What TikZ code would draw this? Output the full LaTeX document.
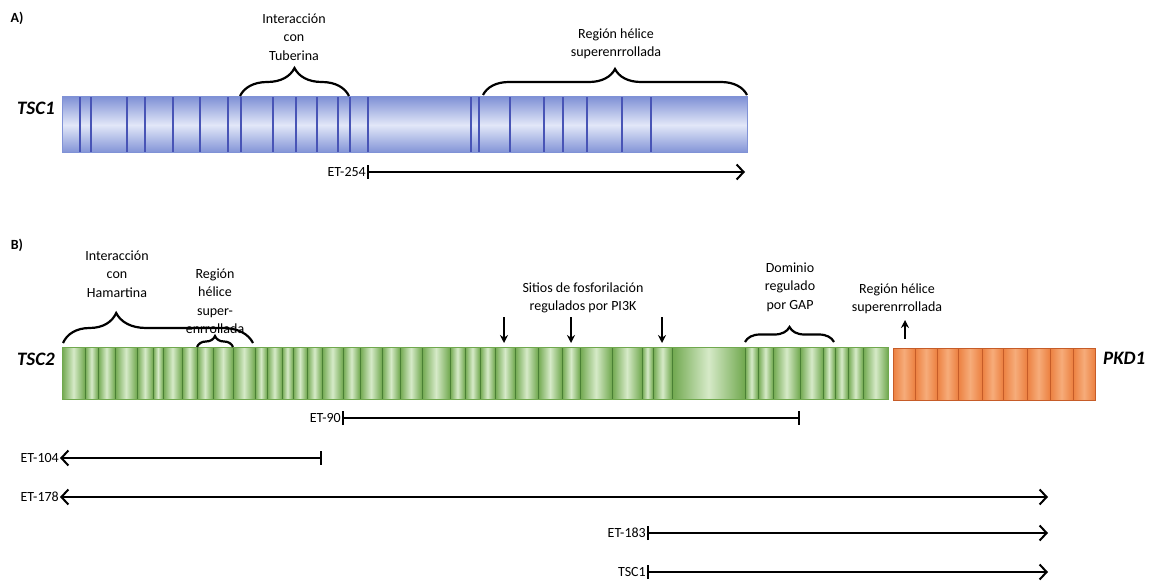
\documentclass[tikz,border=0pt]{standalone}
\usepackage{fontspec}
\setmainfont{Carlito}
\usepackage{tikz}
\usetikzlibrary{arrows.meta,decorations.pathreplacing,calc}
\definecolor{tscBlue}{RGB}{128,146,214}
\definecolor{tscBlueLight}{RGB}{226,231,248}
\definecolor{tscBlueDark}{RGB}{72,84,182}
\definecolor{tscGreen}{RGB}{112,168,78}
\definecolor{tscGreenLight}{RGB}{214,234,200}
\definecolor{tscGreenDark}{RGB}{74,128,52}
\definecolor{pkdOrange}{RGB}{236,128,64}
\definecolor{pkdOrangeLight}{RGB}{246,172,122}
\definecolor{pkdOrangeDark}{RGB}{198,92,40}

\begin{document}
\begin{tikzpicture}[x=1pt, y=-1pt,
    every node/.style={font=\fontsize{14}{18.5}\selectfont, inner sep=1pt},
    lbl/.style={align=center},
    gene/.style={font=\fontsize{19}{22}\selectfont\bfseries\itshape},
    panel/.style={font=\fontsize{14}{16}\selectfont\bfseries},
    curly/.style={decorate, decoration={brace, amplitude=#1}, line width=2.2pt},
    etline/.style={line width=2pt},
    pin/.style={line width=2pt, -{Stealth[length=8pt, width=8pt]}}]
    \useasboundingbox (0,0) rectangle (1149,583);

    % A) TSC1
    \node[panel] (pa) at (17,18) {A)};
    \node[gene, anchor=east] (tscone) at (56,108) {TSC1};
    \shade[top color=tscBlue, bottom color=tscBlue, middle color=tscBlueLight] (62,97) rectangle (747,153);
    \foreach \d in {80,91,127,145,173,200,228,241,273,296,317,338,350,368,471,479,510,544,563,587,622,651}
        \draw[tscBlueDark, line width=1.4pt] (\d,97) -- (\d,153);
    \draw[tscBlue, line width=1pt] (62,97) rectangle (747,153);

    \draw[curly=28pt] (240,96) -- (349,96);
    \node[lbl] (tuberina) at (294,37) {Interacción\\con\\Tuberina};
    \draw[curly=26pt] (483,95) -- (747,95);
    \node[lbl] (helixa) at (616,44) {Región hélice\\superenrrollada};

    \node[anchor=east] (et254) at (367,172) {ET-254};
    \coordinate (et254end) at (745,172);
    \draw[etline, {Bar[width=14pt]}-{Straight Barb[length=7pt, width=15pt]}] (et254.east) -- (et254end);

    % B) TSC2 + PKD1
    \node[panel] (pb) at (17,245) {B)};
    \node[gene, anchor=east] (tsctwo) at (56,359) {TSC2};
    \foreach \b [remember=\b as \a (initially 62)] in {85,98,115,137,153,163,182,197,213,233,255,267,282,293,307,322,343,360,382,400,422,450,465,480,495,515,538,562,580,612,642,653,672,745,758,773,800,823,835,848,863,888}
        \shade[left color=tscGreen, right color=tscGreen, middle color=tscGreenLight] (\a,347) rectangle (\b,399);
    \foreach \d in {85,98,115,137,153,163,182,197,213,233,255,267,282,293,307,322,343,360,382,400,422,450,465,480,495,515,538,562,580,612,642,653,672,745,758,773,800,823,835,848,863}
        \draw[tscGreenDark, line width=1pt] (\d,347) -- (\d,399);
    \draw[tscGreen, line width=1pt] (62,347) rectangle (888,399);

    \foreach \b [remember=\b as \a (initially 893)] in {915,937,958,982,1003,1027,1050,1073,1095}
        \shade[left color=pkdOrange, right color=pkdOrange, middle color=pkdOrangeLight] (\a,348) rectangle (\b,400);
    \foreach \d in {915,937,958,982,1003,1027,1050,1073}
        \draw[pkdOrangeDark, line width=0.8pt] (\d,348) -- (\d,400);
    \draw[pkdOrangeDark, line width=0.8pt] (893,348) rectangle (1095,400);
    \node[gene, anchor=west] (pkdone) at (1102,358) {PKD1};

    \draw[curly=30pt, decoration={aspect=0.28}] (63,343) -- (253,343);
    \node[lbl] (hamartina) at (117,274) {Interacción\\con\\Hamartina};
    \draw[curly=11pt] (197,347) -- (233,347);
    \node[lbl] (helixb) at (215,301) {Región\\hélice\\super-\\enrrollada};

    \node[lbl] (fosfo) at (583,298) {Sitios de fosforilación\\regulados por PI3K};
    \foreach \x [count=\i] in {504,571,662} {
        \coordinate (ptop\i) at (\x,317);
        \coordinate (pbot\i) at (\x,343);
        \draw[pin] (ptop\i) -- (pbot\i);
    }

    \draw[curly=15pt] (745,342) -- (834,342);
    \node[lbl] (gap) at (790,287) {Dominio\\regulado\\por GAP};

    \node[lbl] (helixc) at (897,299) {Región hélice\\superenrrollada};
    \coordinate (upbot) at (905,339);
    \coordinate (uptop) at (905,320);
    \draw[pin] (upbot) -- (uptop);

    % deletions
    \node[anchor=east] (et90) at (342,418) {ET-90};
    \coordinate (et90end) at (800,418);
    \draw[etline, {Bar[width=14pt]}-{Bar[width=14pt]}] (et90.east) -- (et90end);

    \node[anchor=east] (et104) at (60,458) {ET-104};
    \coordinate (et104end) at (322,458);
    \draw[etline, {Straight Barb[length=7pt, width=15pt]}-{Bar[width=14pt]}] (et104.east) -- (et104end);

    \node[anchor=east] (et178) at (60,497) {ET-178};
    \coordinate (et178end) at (1048,497);
    \draw[etline, {Straight Barb[length=7pt, width=15pt]}-{Straight Barb[length=7pt, width=15pt]}] (et178.east) -- (et178end);

    \node[anchor=east] (et183) at (647,533) {ET-183};
    \coordinate (et183end) at (1048,533);
    \draw[etline, {Bar[width=14pt]}-{Straight Barb[length=7pt, width=15pt]}] (et183.east) -- (et183end);

    \node[anchor=east] (tscdel) at (647,572) {TSC1};
    \coordinate (tscdelend) at (1048,572);
    \draw[etline, {Bar[width=14pt]}-{Straight Barb[length=7pt, width=15pt]}] (tscdel.east) -- (tscdelend);
\end{tikzpicture}
\end{document}
